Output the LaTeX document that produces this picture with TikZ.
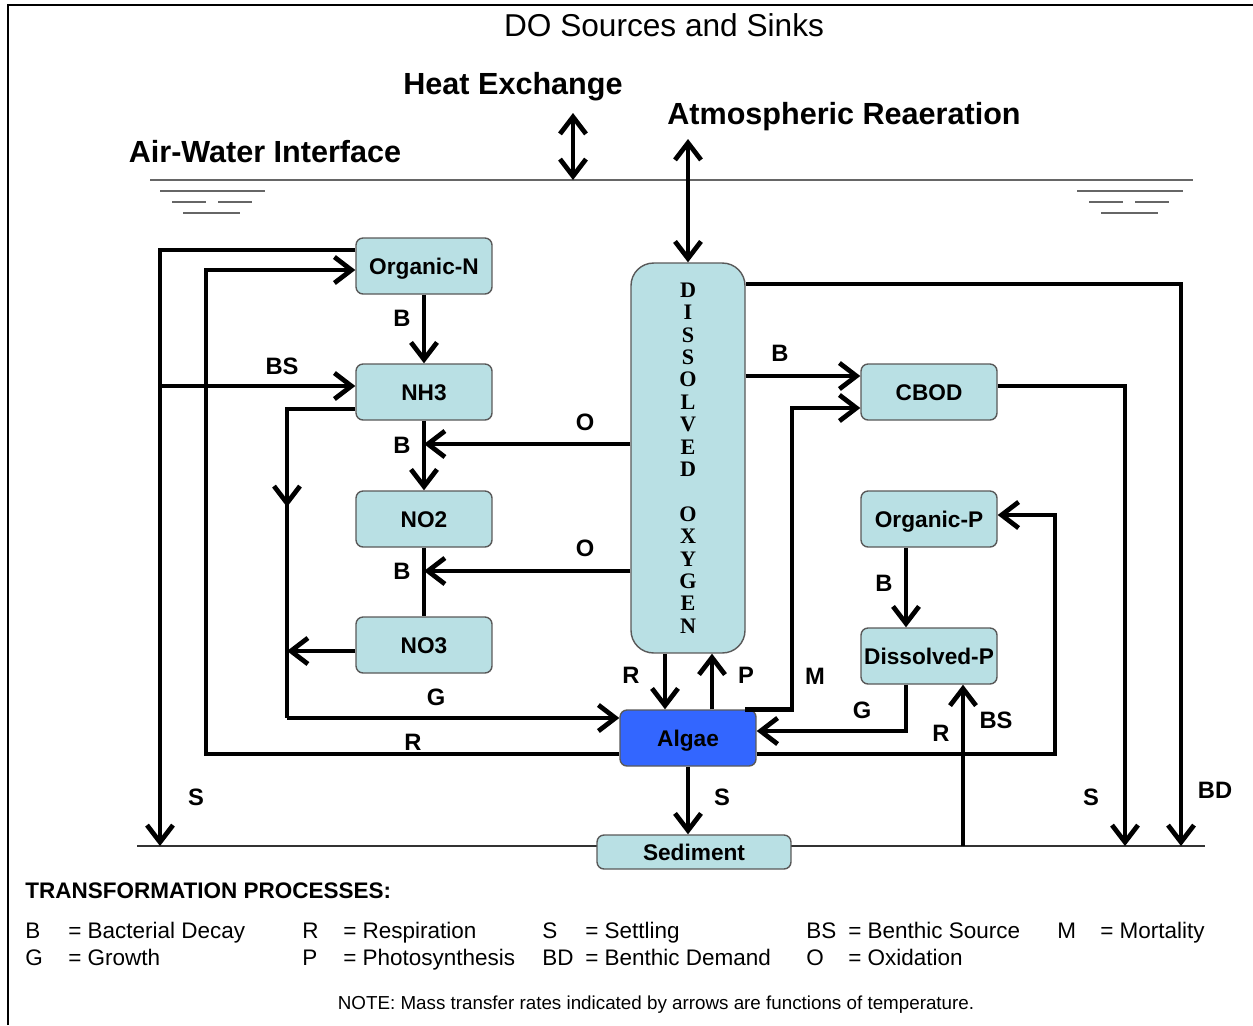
\documentclass[tikz,border=0pt]{standalone}
\usepackage{fontspec}
\setmainfont{Liberation Sans}
\newfontfamily\oxyfont{Liberation Serif}
\usepackage{tikz}
\usetikzlibrary{arrows.meta}

\definecolor{boxfill}{RGB}{185,224,228}
\definecolor{algaeblue}{RGB}{51,102,255}

\tikzset{
  box/.style={draw=black!65, line width=0.8pt, fill=boxfill, rounded corners=4pt,
    minimum width=2.72cm, minimum height=1.12cm, inner sep=0pt,
    text height=9.3pt, text depth=0pt,
    font=\bfseries\fontsize{12.9}{15}\selectfont},
  pipe/.style={line width=2.7pt},
  flow/.style={pipe, -{Straight Barb[length=3.4mm,width=5.2mm]}},
  both/.style={pipe, {Straight Barb[length=3.4mm,width=5.2mm]}-{Straight Barb[length=3.4mm,width=5.2mm]}},
  lbl/.style={font=\bfseries\fontsize{13.5}{15}\selectfont, inner sep=0pt},
  head/.style={font=\bfseries\fontsize{17.4}{19}\selectfont, inner sep=0pt},
  key/.style={anchor=base west, inner sep=0pt, font=\fontsize{12.8}{14}\selectfont},
  water/.style={draw=black!60, line width=0.8pt},
}

\begin{document}
\begin{tikzpicture}[x=0.02cm, y=-0.02cm]
\useasboundingbox (0,0) rectangle (1253,1025);
\draw[line width=1.4pt] (8,1025) -- (8,5) -- (1253,5);

% surface and bed
\coordinate (surfL) at (150,180);
\coordinate (surfR) at (1193,180);
\coordinate (bedL) at (137,846);
\coordinate (bedR) at (1205,846);
\draw[water] (surfL) -- (surfR);
\draw[water] (160,191) -- (265,191);
\draw[water] (172,202) -- (206,202);
\draw[water] (218,202) -- (252,202);
\draw[water] (183,213) -- (240,213);
\draw[water] (1077,191) -- (1183,191);
\draw[water] (1089,202) -- (1123,202);
\draw[water] (1135,202) -- (1169,202);
\draw[water] (1101,213) -- (1158,213);
\draw[black!80, line width=0.9pt] (bedL) -- (bedR);

% titles
\node[font=\fontsize{18}{20}\selectfont] (title) at (664,25) {DO Sources and Sinks};
\node[head] (heat) at (513,87) {Heat Exchange};
\node[head] (air) at (844,117) {Atmospheric Reaeration};
\node[head] (iface) at (265,152) {Air-Water Interface};
\coordinate (hx) at (573,113);
\coordinate (ra) at (688,139);

% boxes
\node[box] (orgn) at (424,266) {Organic-N};
\node[box] (nh3) at (424,392) {NH3};
\node[box] (no2) at (424,519) {NO2};
\node[box] (no3) at (424,645) {NO3};
\node[box, minimum width=2.28cm, minimum height=7.8cm, rounded corners=0.45cm,
  text height=, text depth=,
  font=\oxyfont\bfseries\fontsize{12.6}{12.75}\selectfont, align=center] (do) at (688,458)
  {D\\I\\S\\S\\O\\L\\V\\E\\D\\[12.75pt]O\\X\\Y\\G\\E\\N};
\node[box] (cbod) at (929,392) {CBOD};
\node[box] (orgp) at (929,519) {Organic-P};
\node[box] (dissp) at (929,656) {Dissolved-P};
\node[box, fill=algaeblue] (algae) at (688,738) {Algae};
\node[box, minimum width=3.88cm, minimum height=0.68cm] (sed) at (694,852) {Sediment};

% exchange at the surface
\draw[both] (hx) -- (hx |- surfL);
\draw[both] (ra) -- (do.north);

% nitrogen
\draw[flow] (orgn.south) -- (nh3.north);
\draw[flow] (nh3.south) -- (no2.north);
\draw[pipe] (no2.south) -- (no3.north);
\draw[flow] (do.west |- 0,444) -- (nh3.south |- 0,444);
\draw[flow] (do.west |- 0,571) -- (no2.south |- 0,571);
\draw[flow] (orgn.west |- 0,250) -| (160,0 |- bedL);
\draw[flow] (160,386) -- (nh3.west |- 0,386);
\draw[flow] (algae.west |- 0,754) -| (206,270) -- (orgn.west |- 0,270);
\draw[pipe] (nh3.west |- 0,409) -| (287,718);
\draw[flow] (287,409) -- (287,507);
\draw[flow] (287,718) -- (algae.west |- 0,718);
\draw[flow] (no3.west |- 0,651) -- (287,651);

% oxygen, algae, CBOD
\draw[flow] (do.south -| 665,0) -- (algae.north -| 665,0);
\draw[flow] (algae.north -| 712,0) -- (do.south -| 712,0);
\draw[flow] (algae.south) -- (sed.north -| algae.south);
\draw[flow] (do.east |- 0,376) -- (cbod.west |- 0,376);
\draw[flow] (algae.north -| 745,0) -| (792,408) -- (cbod.west |- 0,408);
\draw[flow] (do.east |- 0,284) -| (1181,0 |- bedL);
\draw[flow] (cbod.east |- 0,386) -| (1125,0 |- bedL);

% phosphorus
\draw[flow] (orgp.south -| 906,0) -- (dissp.north -| 906,0);
\draw[flow] (dissp.south -| 906,0) |- (algae.east |- 0,731);
\draw[flow] (963,0 |- bedL) -- (dissp.south -| 963,0);
\draw[flow] (algae.east |- 0,754) -| (1055,515) -- (orgp.east |- 0,515);

% process labels
\node[lbl] (b1) at (402,318) {B};
\node[lbl] (bs1) at (282,366) {BS};
\node[lbl] (b2) at (402,445) {B};
\node[lbl] (o1) at (585,422) {O};
\node[lbl] (b3) at (402,571) {B};
\node[lbl] (o2) at (585,548) {O};
\node[lbl] (g1) at (436,697) {G};
\node[lbl] (r1) at (413,742) {R};
\node[lbl] (r2) at (631,675) {R};
\node[lbl] (p1) at (746,675) {P};
\node[lbl] (m1) at (815,676) {M};
\node[lbl] (b4) at (780,353) {B};
\node[lbl] (b5) at (884,583) {B};
\node[lbl] (g2) at (862,710) {G};
\node[lbl] (r3) at (941,733) {R};
\node[lbl] (bs2) at (996,720) {BS};
\node[lbl] (s1) at (196,797) {S};
\node[lbl] (s2) at (722,797) {S};
\node[lbl] (s3) at (1091,797) {S};
\node[lbl] (bd1) at (1215,790) {BD};

% legend
\node[key, font=\bfseries\fontsize{12.8}{14}\selectfont] (legend) at (25,898) {TRANSFORMATION PROCESSES:};
\node[key] (kB) at (25,938) {B};
\node[key] (dB) at (68,938) {= Bacterial Decay};
\node[key] (kG) at (25,965) {G};
\node[key] (dG) at (68,965) {= Growth};
\node[key] (kR) at (302,938) {R};
\node[key] (dR) at (343,938) {= Respiration};
\node[key] (kP) at (302,965) {P};
\node[key] (dP) at (343,965) {= Photosynthesis};
\node[key] (kS) at (542,938) {S};
\node[key] (dS) at (585,938) {= Settling};
\node[key] (kBD) at (542,965) {BD};
\node[key] (dBD) at (585,965) {= Benthic Demand};
\node[key] (kBS) at (806,938) {BS};
\node[key] (dBS) at (848,938) {= Benthic Source};
\node[key] (kO) at (806,965) {O};
\node[key] (dO) at (848,965) {= Oxidation};
\node[key] (kM) at (1057,938) {M};
\node[key] (dM) at (1100,938) {= Mortality};
\node[font=\fontsize{10.7}{12}\selectfont, anchor=base] (note) at (656,1009)
  {NOTE: Mass transfer rates indicated by arrows are functions of temperature.};
\end{tikzpicture}
\end{document}
